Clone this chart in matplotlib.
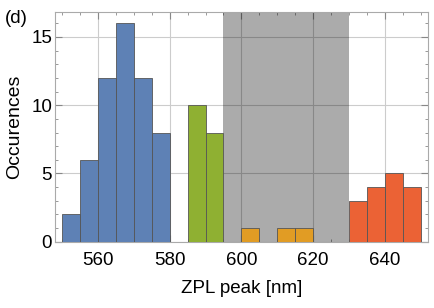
import numpy as np
import matplotlib
matplotlib.use("Agg")
import matplotlib.pyplot as plt
from matplotlib.ticker import MultipleLocator

plt.rcParams['font.family'] = ['Liberation Sans', 'DejaVu Sans']

# histogram bins, 5 nm wide (left edges) and counts per group
blue_edges = [550, 555, 560, 565, 570, 575]
blue_counts = [2, 6, 12, 16, 12, 8]
green_edges = [585, 590]
green_counts = [10, 8]
orange_edges = [600, 610, 615]
orange_counts = [1, 1, 1]
red_edges = [630, 635, 640, 645]
red_counts = [3, 4, 5, 4]
bin_width = 5
excluded = (595, 630)

groups = [
    (blue_edges, blue_counts, '#5e81b5'),
    (green_edges, green_counts, '#8fb032'),
    (orange_edges, orange_counts, '#e19c24'),
    (red_edges, red_counts, '#eb6235'),
]

fig = plt.figure(figsize=(4.35, 3.08), dpi=100)
ax = fig.add_axes([0.126, 0.215, 0.858, 0.745])

ax.axvspan(*excluded, color='black', alpha=0.33, lw=0, zorder=1)
for edges, counts, col in groups:
    ax.bar(edges, counts, width=bin_width, align='edge', color=col,
           edgecolor='#555555', linewidth=0.6, zorder=3)

ax.set_xlim(548, 652)
ax.set_ylim(0, 16.8)
ax.xaxis.set_major_locator(MultipleLocator(20))
ax.xaxis.set_minor_locator(MultipleLocator(5))
ax.yaxis.set_major_locator(MultipleLocator(5))
ax.yaxis.set_minor_locator(MultipleLocator(1))
ax.grid(True, which='major', color='#cccccc', lw=0.8, zorder=0)
ax.set_axisbelow(True)
ax.tick_params(which='both', direction='in', top=True, right=True,
               labelsize=13.5, color='#888888')
ax.tick_params(which='major', length=5)
ax.tick_params(which='minor', length=2.5)
ax.tick_params(axis='x', pad=7)
ax.tick_params(axis='y', pad=2)
for s in ax.spines.values():
    s.set_color('#aaaaaa')
    s.set_linewidth(0.8)

ax.set_xlabel('ZPL peak [nm]', fontsize=13.5, labelpad=8)
ax.set_ylabel('Occurences', fontsize=14, labelpad=6)
fig.text(0.012, 0.925, '(d)', fontsize=13.5)

fig.savefig('out.png', dpi=100)
